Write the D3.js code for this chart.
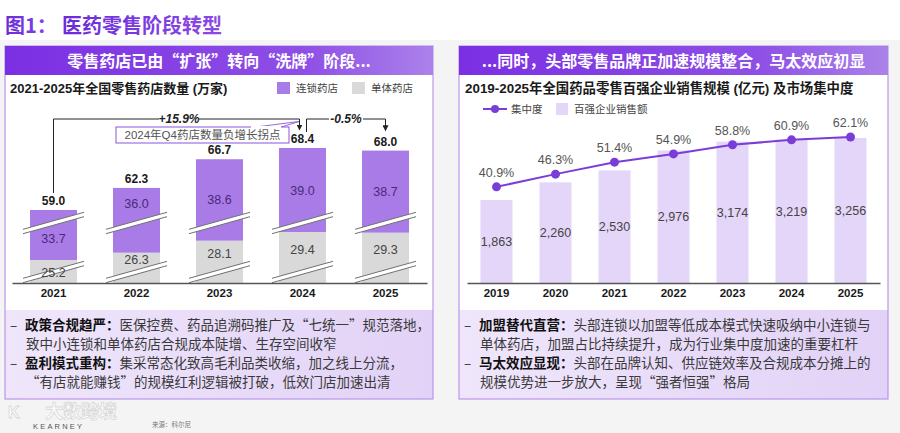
<!DOCTYPE html>
<html>
<head>
<meta charset="utf-8">
<script src="https://cdn.jsdelivr.net/npm/d3@7"></script>
<style>
    body { margin: 0; background: #fff; }
    svg { display: block; }
</style>
</head>
<body>
<svg id="chart"></svg>
<script>
// ---- data ----
const storeYears = ["2021", "2022", "2023", "2024", "2025"];
const chainStores = [33.7, 36.0, 38.6, 39.0, 38.7];
const singleStores = [25.2, 26.3, 28.1, 29.4, 29.3];
const totalStores = [59.0, 62.3, 66.7, 68.4, 68.0];
const storeGrowth = ["+15.9%", "-0.5%"];
const storeCallout = "2024年Q4药店数量负增长拐点";

const salesYears = ["2019", "2020", "2021", "2022", "2023", "2024", "2025"];
const top100Sales = [1863, 2260, 2530, 2976, 3174, 3219, 3256];
const concentration = [40.9, 46.3, 51.4, 54.9, 58.8, 60.9, 62.1];

const leftBullets = [
    ["政策合规趋严：", "医保控费、药品追溯码推广及“七统一”规范落地，", "致中小连锁和单体药店合规成本陡增、生存空间收窄"],
    ["盈利模式重构：", "集采常态化致高毛利品类收缩，加之线上分流，", "“有店就能赚钱”的规模红利逻辑被打破，低效门店加速出清"]
];
const rightBullets = [
    ["加盟替代直营：", "头部连锁以加盟等低成本模式快速吸纳中小连锁与", "单体药店，加盟占比持续提升，成为行业集中度加速的重要杠杆"],
    ["马太效应显现：", "头部在品牌认知、供应链效率及合规成本分摊上的", "规模优势进一步放大，呈现“强者恒强”格局"]
];

// ---- setup ----
const W = 900, H = 433;
const CJK = "'Noto Sans CJK SC', sans-serif";
const NUM = "'Liberation Sans', Arial, 'Noto Sans CJK SC', sans-serif";
const PURPLE = "#a87be7", GRAY = "#d9d9d9", LAV = "#e4d6f8", LINE = "#7a3dd8";

const svg = d3.select("#chart").attr("width", W).attr("height", H);
const defs = svg.append("defs");

const hg = defs.append("linearGradient").attr("id", "hdr");
hg.append("stop").attr("offset", "0%").attr("stop-color", "#7b2fe3");
hg.append("stop").attr("offset", "70%").attr("stop-color", "#8e4fe6");
hg.append("stop").attr("offset", "100%").attr("stop-color", "#ab82ea");

const bg = defs.append("linearGradient").attr("id", "note");
bg.append("stop").attr("offset", "0%").attr("stop-color", "#efe6fb");
bg.append("stop").attr("offset", "100%").attr("stop-color", "#e2d2f7");

const tg = defs.append("linearGradient").attr("id", "ttl");
tg.append("stop").attr("offset", "0%").attr("stop-color", "#6a2bd9");
tg.append("stop").attr("offset", "100%").attr("stop-color", "#8c4ae6");

defs.append("marker")
    .attr("id", "arrow")
    .attr("viewBox", "0 0 10 10")
    .attr("refX", 9).attr("refY", 5)
    .attr("markerWidth", 6).attr("markerHeight", 6)
    .attr("orient", "auto")
    .append("path")
    .attr("d", "M0,0 L10,5 L0,10 z")
    .attr("fill", "#222");

// page background
svg.append("rect").attr("width", W).attr("height", H).attr("fill", "#fff");
svg.append("rect").attr("y", 40).attr("width", W).attr("height", H - 40).attr("fill", "#f4f4f4");

// page title
svg.append("text")
    .attr("x", 5).attr("y", 33)
    .attr("font-family", CJK).attr("font-weight", 700).attr("font-size", 20)
    .attr("fill", "url(#ttl)")
    .text("图1：");
svg.append("text")
    .attr("x", 62).attr("y", 33)
    .attr("font-family", CJK).attr("font-weight", 700).attr("font-size", 20)
    .attr("fill", "url(#ttl)")
    .text("医药零售阶段转型");

// ---- panels ----
function drawPanel(x0, w, header, title, bullets) {
    const g = svg.append("g");
    g.append("rect")
        .attr("x", x0).attr("y", 46).attr("width", w).attr("height", 353)
        .attr("fill", "#fff");
    g.append("rect")
        .attr("x", x0).attr("y", 310).attr("width", w).attr("height", 89)
        .attr("fill", "url(#note)");
    g.append("rect")
        .attr("x", x0).attr("y", 46).attr("width", w).attr("height", 353)
        .attr("fill", "none").attr("stroke", "#bb95ea").attr("stroke-width", 1.2);
    g.append("rect")
        .attr("x", x0).attr("y", 46).attr("width", w).attr("height", 29)
        .attr("fill", "url(#hdr)");
    g.append("text")
        .attr("x", x0 + w / 2).attr("y", 66.5)
        .attr("text-anchor", "middle")
        .attr("font-family", CJK).attr("font-weight", 700).attr("font-size", 16)
        .attr("fill", "#fff")
        .text(header);
    g.append("text")
        .attr("x", title.x).attr("y", 93)
        .attr("font-family", NUM).attr("font-weight", 700).attr("font-size", title.size)
        .attr("fill", "#1a1a1a")
        .text(title.text);

    const lineY = [330, 348.5, 368, 386.5];
    bullets.forEach((b, i) => {
        g.append("text")
            .attr("x", x0 + 5).attr("y", lineY[i * 2])
            .attr("font-family", CJK).attr("font-size", 13.5).attr("fill", "#333")
            .text("–");
        const t = g.append("text")
            .attr("x", x0 + 20).attr("y", lineY[i * 2])
            .attr("font-family", CJK).attr("font-size", 13.5);
        t.append("tspan").attr("font-weight", 700).attr("fill", "#111").text(b[0]);
        t.append("tspan").attr("fill", "#3a3a3a").text(b[1]);
        g.append("text")
            .attr("x", x0 + 21).attr("y", lineY[i * 2 + 1])
            .attr("font-family", CJK).attr("font-size", 13.5).attr("fill", "#3a3a3a")
            .text(b[2]);
    });
    return g;
}

drawPanel(5, 428, "零售药店已由“扩张”转向“洗牌”阶段...",
    { x: 10, size: 13, text: "2021-2025年全国零售药店数量 (万家)" }, leftBullets);
drawPanel(459, 429, "...同时，头部零售品牌正加速规模整合，马太效应初显",
    { x: 465, size: 13.4, text: "2019-2025年全国药品零售百强企业销售规模 (亿元) 及市场集中度" }, rightBullets);

// ---- left chart: stacked bars on a broken axis ----
const baseY = 283;
const left = svg.append("g");

const xL = d3.scaleBand().domain(storeYears).range([12, 427]).padding(0);
const singleH = d3.scaleLinear().domain([21.75, 29.4]).range([0, 51]);
const chainH = d3.scaleLinear().domain([25.9, 39.0]).range([0, 84]);
const barW = 47;
const breakY = [272, 223];

const rows = storeYears.map((year, i) => {
    const cx = xL(year) + xL.bandwidth() / 2;
    const singleTop = baseY - singleH(singleStores[i]);
    const chainTop = singleTop - chainH(chainStores[i]);
    return { year, cx, singleTop, chainTop, chain: chainStores[i], single: singleStores[i], total: totalStores[i] };
});

// legend
const legL = left.append("g").attr("font-family", CJK).attr("font-size", 10.5).attr("fill", "#444");
legL.append("rect").attr("x", 277).attr("y", 82).attr("width", 13).attr("height", 12).attr("fill", PURPLE);
legL.append("text").attr("x", 296).attr("y", 92).text("连锁药店");
legL.append("rect").attr("x", 352).attr("y", 82).attr("width", 13).attr("height", 12).attr("fill", GRAY);
legL.append("text").attr("x", 371).attr("y", 92).text("单体药店");

left.selectAll(".single")
    .data(rows)
    .join("rect")
    .attr("class", "single")
    .attr("x", d => d.cx - barW / 2)
    .attr("y", d => d.singleTop)
    .attr("width", barW)
    .attr("height", d => baseY - d.singleTop)
    .attr("fill", GRAY);

left.selectAll(".chain")
    .data(rows)
    .join("rect")
    .attr("class", "chain")
    .attr("x", d => d.cx - barW / 2)
    .attr("y", d => d.chainTop)
    .attr("width", barW)
    .attr("height", d => d.singleTop - d.chainTop)
    .attr("fill", PURPLE);

// break marks
rows.forEach(d => {
    breakY.forEach(c => {
        const x0 = d.cx - barW / 2 - 7, x1 = d.cx + barW / 2 + 7, r = 8.5, gap = 2.2;
        const bk = left.append("g");
        bk.append("polygon")
            .attr("points", [[x0, c + r - gap], [x1, c - r - gap], [x1, c - r + gap], [x0, c + r + gap]].join(" "))
            .attr("fill", "#fff");
        [-gap, gap].forEach(o => {
            bk.append("line")
                .attr("x1", x0).attr("y1", c + r + o)
                .attr("x2", x1).attr("y2", c - r + o)
                .attr("stroke", "#707070").attr("stroke-width", 1);
        });
    });
});

// segment labels
left.selectAll(".chain-label")
    .data(rows)
    .join("text")
    .attr("class", "chain-label")
    .attr("x", d => d.cx)
    .attr("y", d => {
        const mid = (d.chainTop + d.singleTop) / 2;
        if (Math.abs(mid - breakY[1]) > 14) return mid + 4.5;
        const above = (breakY[1] - 10) - d.chainTop;
        if (above > 20) return (d.chainTop + breakY[1] - 10) / 2 + 8;
        return breakY[1] + 15 + 4.5;
    })
    .attr("text-anchor", "middle")
    .attr("font-family", NUM).attr("font-size", 12.5)
    .attr("fill", "#4a2a78")
    .text(d => d.chain.toFixed(1));

left.selectAll(".single-label")
    .data(rows)
    .join("text")
    .attr("class", "single-label")
    .attr("x", d => d.cx)
    .attr("y", d => {
        const room = (breakY[0] - 9) - d.singleTop;
        return (room > 8 ? (d.singleTop + breakY[0] - 9) / 2 + 1.5 : breakY[0]) + 4.5;
    })
    .attr("text-anchor", "middle")
    .attr("font-family", NUM).attr("font-size", 12.5)
    .attr("fill", "#444")
    .text(d => d.single.toFixed(1));

left.selectAll(".total-label")
    .data(rows)
    .join("text")
    .attr("class", "total-label")
    .attr("x", d => d.cx)
    .attr("y", d => d.chainTop - 5)
    .attr("text-anchor", "middle")
    .attr("font-family", NUM).attr("font-weight", 700).attr("font-size", 12)
    .attr("fill", "#1a1a1a")
    .text(d => d.total.toFixed(1));

// x axis
const axL = left.append("g")
    .attr("transform", `translate(0, ${baseY})`)
    .call(d3.axisBottom(xL).tickSize(0).tickPadding(6));
axL.select(".domain").attr("stroke", "#555").attr("stroke-width", 1.3);
axL.selectAll("text")
    .attr("font-family", NUM).attr("font-weight", 700).attr("font-size", 11.5).attr("fill", "#1a1a1a");

// growth brackets
const r21 = rows[0], r24 = rows[3], r25 = rows[4];
const brY = 119;
left.append("path")
    .attr("d", `M${r21.cx},${r21.chainTop - 17} V${brY} H${r24.cx - 3} V${r24.chainTop - 18}`)
    .attr("fill", "none").attr("stroke", "#222").attr("stroke-width", 1)
    .attr("marker-end", "url(#arrow)");
left.append("path")
    .attr("d", `M${r24.cx + 4},${r24.chainTop - 16} V${brY} H${r25.cx} V${r25.chainTop - 20}`)
    .attr("fill", "none").attr("stroke", "#222").attr("stroke-width", 1)
    .attr("marker-end", "url(#arrow)");

[[ (r21.cx + r24.cx) / 2 + 1, storeGrowth[0], 40 ], [ (r24.cx + r25.cx) / 2 + 2, storeGrowth[1], 34 ]].forEach(([x, label, w]) => {
    left.append("rect").attr("x", x - w / 2).attr("y", brY - 6).attr("width", w).attr("height", 12).attr("fill", "#fff");
    left.append("text")
        .attr("x", x).attr("y", brY + 4)
        .attr("text-anchor", "middle")
        .attr("font-family", NUM).attr("font-weight", 700).attr("font-style", "italic").attr("font-size", 12)
        .attr("fill", "#222")
        .text(label);
});

// callout
left.append("polygon")
    .attr("points", "252,127.5 280,127.5 299,121.5")
    .attr("fill", "#fff").attr("stroke", "#8b55e0").attr("stroke-width", 0.9);
left.append("rect")
    .attr("x", 116).attr("y", 127).attr("width", 173).attr("height", 16)
    .attr("fill", "#fff").attr("stroke", "#8b55e0").attr("stroke-width", 1);
left.append("rect")
    .attr("x", 251).attr("y", 126).attr("width", 30).attr("height", 2).attr("fill", "#fff");
left.append("text")
    .attr("x", 202.5).attr("y", 139.3)
    .attr("text-anchor", "middle")
    .attr("font-family", NUM).attr("font-size", 11.5).attr("fill", "#555")
    .text(storeCallout);

// ---- right chart: bars + concentration line ----
const right = svg.append("g");
const xR = d3.scaleBand().domain(salesYears).range([467, 880]).padding(0);
const ySales = d3.scaleLinear().domain([0, 3256]).range([baseY, 138]);
const yConc = d3.scaleLinear().domain([0, 62.1]).range([baseY, 137]);
const cxR = d => xR(d) + xR.bandwidth() / 2;
const barWR = 32;

const legR = right.append("g").attr("font-family", CJK).attr("font-size", 10.5).attr("fill", "#444");
legR.append("line").attr("x1", 483).attr("x2", 507).attr("y1", 109).attr("y2", 109)
    .attr("stroke", LINE).attr("stroke-width", 2);
legR.append("circle").attr("cx", 495).attr("cy", 109).attr("r", 4).attr("fill", LINE);
legR.append("text").attr("x", 511).attr("y", 113).text("集中度");
legR.append("rect").attr("x", 556).attr("y", 103).attr("width", 12).attr("height", 12).attr("fill", LAV);
legR.append("text").attr("x", 574).attr("y", 113).text("百强企业销售额");

right.selectAll(".sales")
    .data(salesYears)
    .join("rect")
    .attr("class", "sales")
    .attr("x", d => cxR(d) - barWR / 2)
    .attr("y", (d, i) => ySales(top100Sales[i]))
    .attr("width", barWR)
    .attr("height", (d, i) => baseY - ySales(top100Sales[i]))
    .attr("fill", LAV);

right.selectAll(".sales-label")
    .data(salesYears)
    .join("text")
    .attr("class", "sales-label")
    .attr("x", d => cxR(d))
    .attr("y", (d, i) => (ySales(top100Sales[i]) + baseY) / 2 + 4.5)
    .attr("text-anchor", "middle")
    .attr("font-family", NUM).attr("font-size", 12.5).attr("fill", "#444")
    .text((d, i) => d3.format(",")(top100Sales[i]));

const line = d3.line()
    .x(d => cxR(d))
    .y((d, i) => yConc(concentration[i]));

right.append("path")
    .datum(salesYears)
    .attr("d", line)
    .attr("fill", "none").attr("stroke", LINE).attr("stroke-width", 2);

right.selectAll(".dot")
    .data(salesYears)
    .join("circle")
    .attr("class", "dot")
    .attr("cx", d => cxR(d))
    .attr("cy", (d, i) => yConc(concentration[i]))
    .attr("r", 4.5)
    .attr("fill", LINE);

right.selectAll(".conc-label")
    .data(salesYears)
    .join("text")
    .attr("class", "conc-label")
    .attr("x", d => cxR(d))
    .attr("y", (d, i) => yConc(concentration[i]) - 10)
    .attr("text-anchor", "middle")
    .attr("font-family", NUM).attr("font-size", 12.5).attr("fill", "#555")
    .text((d, i) => concentration[i].toFixed(1) + "%");

const axR = right.append("g")
    .attr("transform", `translate(0, ${baseY})`)
    .call(d3.axisBottom(xR).tickSize(0).tickPadding(6));
axR.select(".domain").attr("stroke", "#555").attr("stroke-width", 1.3);
axR.selectAll("text")
    .attr("font-family", NUM).attr("font-weight", 700).attr("font-size", 11.5).attr("fill", "#1a1a1a");

// ---- footer ----
svg.append("text")
    .attr("x", 45).attr("y", 418)
    .attr("font-family", CJK).attr("font-size", 18).attr("font-weight", 700)
    .attr("fill", "#fff").attr("stroke", "#d6d6d6").attr("stroke-width", 0.8)
    .attr("opacity", 0.9)
    .text("大数跨境");
svg.append("text")
    .attr("x", 8).attr("y", 418)
    .attr("font-family", NUM).attr("font-size", 16).attr("font-weight", 700)
    .attr("fill", "#fff").attr("stroke", "#d6d6d6").attr("stroke-width", 0.8)
    .text("K");
svg.append("text")
    .attr("x", 33).attr("y", 429)
    .attr("font-family", NUM).attr("font-size", 7.5).attr("letter-spacing", 2.2)
    .attr("fill", "#555")
    .text("KEARNEY");
svg.append("text")
    .attr("x", 152).attr("y", 427)
    .attr("font-family", CJK).attr("font-size", 6.5)
    .attr("fill", "#777")
    .text("来源：科尔尼");
</script>
</body>
</html>
